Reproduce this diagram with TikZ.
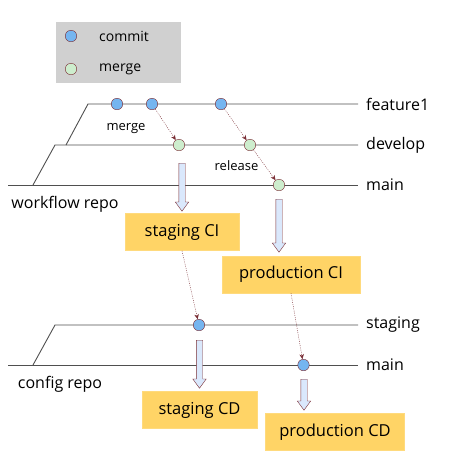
\documentclass[tikz,border=0pt]{standalone}
\usepackage{fontspec}
\setmainfont{Open Sans}
\usetikzlibrary{positioning, arrows.meta, shapes.arrows}
\definecolor{linegray}{HTML}{4F4F4F}
\definecolor{edgered}{HTML}{7A2E35}
\definecolor{commitblue}{HTML}{75B5F0}
\definecolor{mergegreen}{HTML}{CDEDCD}
\definecolor{ciyellow}{HTML}{FFD466}
\definecolor{arrowblue}{HTML}{DAE8FC}
\definecolor{legendgray}{HTML}{D0D0D0}

\begin{document}
\begin{tikzpicture}[x=1pt, y=-1pt,
  commitnode/.style={circle, draw=edgered, fill=commitblue, thin, minimum size=11.5pt, inner sep=0pt},
  mergenode/.style={commitnode, fill=mergegreen},
  branchline/.style={draw=linegray, line width=0.9pt},
  branchlabel/.style={anchor=west, inner sep=0pt, font=\fontsize{16}{18}\selectfont},
  smalllabel/.style={inner sep=0pt, font=\fontsize{13}{15}\selectfont},
  flow/.style={->, >={Stealth[length=5pt, width=4.5pt]}, edgered, thin, dash pattern=on 1pt off 1.2pt},
  cibox/.style={fill=ciyellow, draw=ciyellow!85!white, minimum height=37pt, inner xsep=12pt, font=\fontsize{16.5}{18}\selectfont},
  blockarrow/.style={single arrow, draw=edgered, fill=arrowblue, thin, rotate=-90, inner sep=3pt, minimum width=0pt, single arrow head extend=3.5pt, single arrow tip angle=72}]
\useasboundingbox (0,0) rectangle (458,467);

% legend
\fill[legendgray] (56,22) rectangle (181,83);
\node[commitnode] (keycommit) at (71,36) {};
\node[mergenode]  (keymerge)  at (71,69) {};
\node[smalllabel, anchor=west, font=\fontsize{14}{16}\selectfont] (keycommittext) at (99,36) {commit};
\node[smalllabel, anchor=west, font=\fontsize{14}{16}\selectfont] (keymergetext)  at (99,69) {merge};

% workflow repo branches
\coordinate (featurestart) at (88,104);
\coordinate (developstart) at (55,145);
\coordinate (mainstart)    at (8,185);
\draw[branchline] (66,145) -- (featurestart) -- (358,104);
\draw[branchline] (33,185) -- (developstart) -- (358,145);
\draw[branchline] (mainstart) -- (358,185);
\node[branchlabel] (featurelabel) at (366,104) {feature1};
\node[branchlabel] (developlabel) at (366,145) {develop};
\node[branchlabel] (mainlabel)    at (366,185) {main};
\node[branchlabel, anchor=center] (workflowlabel) at (65,204) {workflow repo};

\node[commitnode] (commita) at (117,104) {};
\node[commitnode] (commitb) at (152,104) {};
\node[commitnode] (commitc) at (221,104) {};
\node[mergenode]  (mergedev)  at (179,145) {};
\node[mergenode]  (mergerel)  at (250,145) {};
\node[mergenode]  (mergemain) at (279,185) {};
\node[smalllabel] (mergetext)   at (126,129) {merge};
\node[smalllabel] (releasetext) at (236.5,166) {release};

\draw[flow] (commitb) -- (mergedev);
\draw[flow] (commitc) -- (mergerel);
\draw[flow] (mergerel) -- (mergemain);

% CI
\node[cibox, minimum width=114pt] (stagingci)    at (182,232)   {staging CI};
\node[cibox, minimum width=138pt] (productionci) at (291,274.5) {production CI};
\node[blockarrow, minimum height=48pt] (devarrow)  at (182,185)   {};
\node[blockarrow, minimum height=53pt] (mainarrow) at (279,223.5) {};

% config repo branches
\coordinate (stagingstart) at (55,325);
\coordinate (configstart)  at (8,365);
\draw[branchline] (33,365) -- (stagingstart) -- (358,325);
\draw[branchline] (configstart) -- (358,365);
\node[branchlabel] (staginglabel)    at (366,325) {staging};
\node[branchlabel] (configmainlabel) at (366,365) {main};
\node[branchlabel, anchor=center] (configlabel) at (60,384) {config repo};

\node[commitnode] (stagingcommit) at (199,325) {};
\node[commitnode] (maincommit)    at (303.5,365) {};
\draw[flow] (stagingci.south) -- (stagingcommit);
\draw[flow] (productionci.south) -- (maincommit);

% CD
\node[blockarrow, minimum height=48pt] (stagingarrow) at (199.5,362) {};
\node[blockarrow, minimum height=31pt] (cdarrow)      at (304,392.5) {};
\node[cibox, minimum width=115pt] (stagingcd)    at (199.5,410) {staging CD};
\node[cibox, minimum width=139pt] (productioncd) at (335,432)   {production CD};
\end{tikzpicture}
\end{document}
